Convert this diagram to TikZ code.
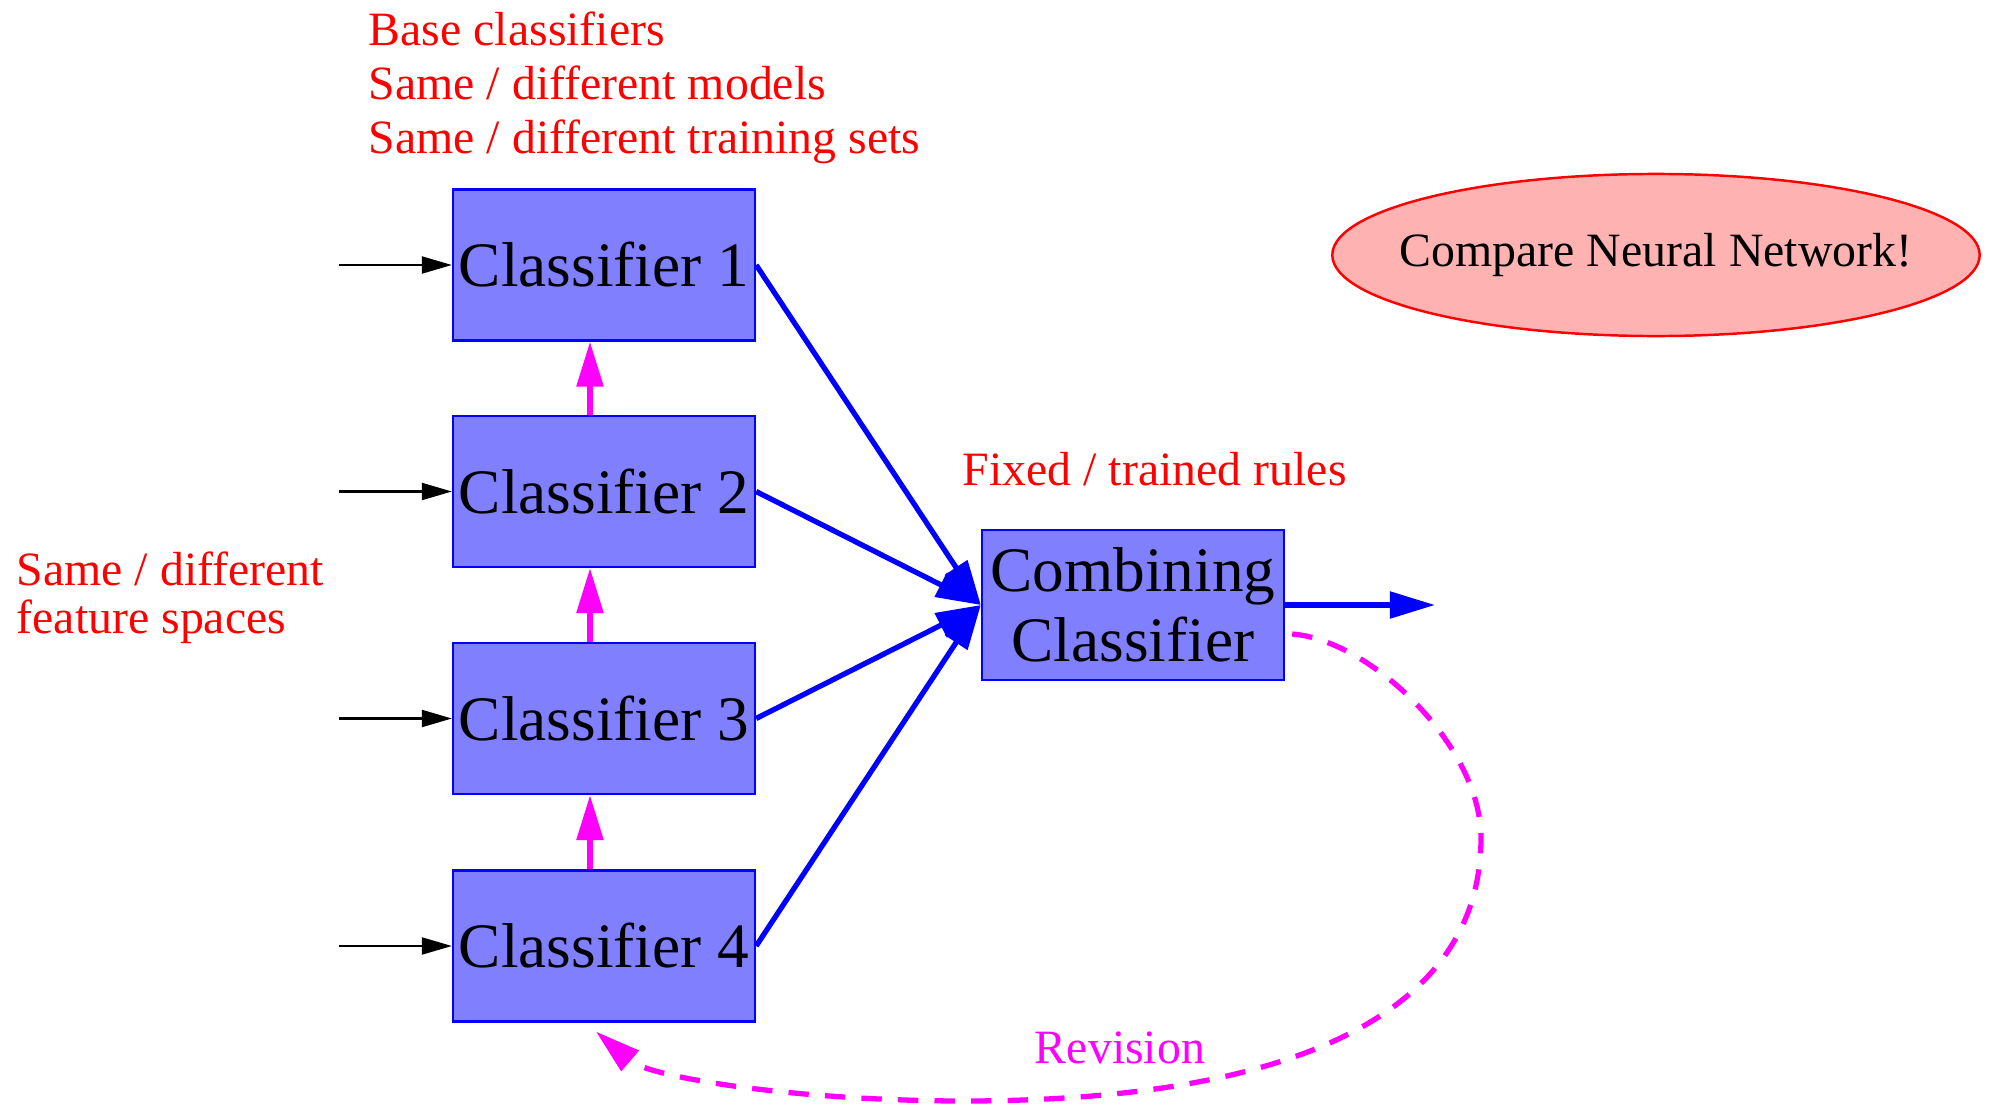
\documentclass[tikz,border=0pt]{standalone}
\usepackage{fontspec}
\setmainfont{Liberation Serif}
\usepackage{tikz}
\usetikzlibrary{shapes.geometric}
\usetikzlibrary{arrows.meta}
\definecolor{boxfill}{RGB}{128,128,255}
\definecolor{nnfill}{RGB}{255,178,178}
\definecolor{revmag}{RGB}{255,0,255}
\tikzset{clsbox/.style={rectangle, draw=blue, line width=.6pt, fill=boxfill, minimum width=3.02cm, minimum height=1.51cm, inner sep=0pt, font=\fontsize{18}{20}\selectfont}}
\tikzset{note/.style={text=red, inner sep=0pt, align=left, font=\fontsize{13.6}{15.4}\selectfont}}
\tikzset{bighead/.style={-{Triangle[length=.45cm, width=.26cm]}}}

\begin{document}
\begin{tikzpicture}[x=0.01cm,y=-0.01cm]
  \useasboundingbox (0,0) rectangle (1990,1109);
  \foreach \y/\lab in {
    265/1,
    491.5/2,
    718.5/3,
    946/4%
  } {
    \node[clsbox] (c\lab) at (604, \y) {Classifier \lab};
    \coordinate (in\lab) at (339, \y);
    \draw[line width=.6pt, -{Triangle[length=.3cm, width=.17cm]}] (in\lab) -- (c\lab.west);
  }
  \node[clsbox, align=center, minimum height=1.5cm] (comb) at (1133, 605) {Combining\\Classifier};
  \node[ellipse, draw=red, line width=.7pt, fill=nnfill, minimum width=6.47cm, minimum height=1.62cm, inner xsep=-.3cm, inner ysep=0pt, font=\fontsize{13.6}{16}\selectfont] (nn) at (1656, 255) {Compare Neural Network!};
  \node[note, anchor=north west] (basenote) at (368, 11) {Base classifiers\\Same / different models\\Same / different training sets};
  \node[note, anchor=north west, font=\fontsize{13.6}{13.6}\selectfont] (featnote) at (16, 551) {Same / different\\feature spaces};
  \node[note, anchor=base west] (rulenote) at (962, 485) {Fixed / trained rules};
  \node[text=revmag, inner sep=0pt, font=\fontsize{13.6}{16}\selectfont] (rev) at (1120, 1048) {Revision};
  \coordinate (out) at (1435, 605);
  \coordinate (revstart) at ([xshift=.07cm, yshift=-.29cm]comb.east);
  \coordinate (revend) at ([xshift=-.08cm, yshift=-.09cm]c4.south);
  \foreach \lab in {1,...,4}{
    \draw[blue, line width=1.5pt, bighead] (c\lab.east) -- (comb.west);
  }
  \foreach \u/\v in {
    2/1,
    3/2,
    4/3%
  }{
    \draw[revmag, line width=1.6pt, bighead] ([xshift=-.14cm]c\u.north) -- ([xshift=-.14cm]c\v.south);
  }
  \draw[blue, line width=1.5pt, bighead] (comb.east) -- (out);
  \draw[revmag, line width=1.5pt, dash pattern=on 5.8pt off 4.6pt, bighead] (revstart) .. controls (1370, 640) and (1481, 745) .. (1481, 838)
    .. controls (1481, 1020) and (1280, 1101) .. (964, 1101)
    .. controls (800, 1101) and (650, 1078) .. (revend);
\end{tikzpicture}
\end{document}
